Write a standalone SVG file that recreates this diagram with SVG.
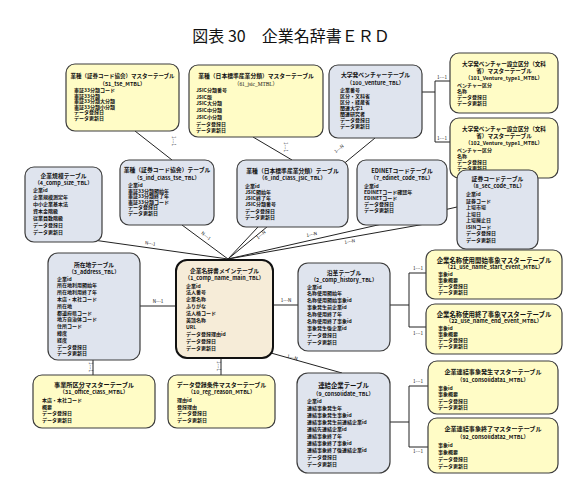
<svg xmlns="http://www.w3.org/2000/svg" width="586" height="485" viewBox="0 0 586 485">
<style>
text{font-family:"Noto Sans CJK JP","Noto Sans",sans-serif;fill:#111}
.y{fill:#fffcc6;stroke:#3c3c3c;stroke-width:1.2}
.b{fill:#dfe4ee;stroke:#3c3c3c;stroke-width:1.2}
.m{fill:#f6ecd8;stroke:#111;stroke-width:2}
.t{font-size:5.8px;font-weight:bold;text-anchor:middle}
.s{font-size:5.4px;font-weight:bold;text-anchor:middle}
.f{font-size:5px;font-weight:bold}
.c line,.c polyline{stroke:#222;stroke-width:1;fill:none}
.l{font-size:4.6px;text-anchor:middle}
.h{font-size:16px;text-anchor:middle}
</style>
<rect width="586" height="485" fill="#fff"/>
<text class="h" x="291" y="42">図表 30　企業名辞書ＥＲＤ</text>

<g id="connectors" class="c">
<line x1="135" y1="131" x2="172" y2="160"/>
<line x1="253" y1="137" x2="292" y2="160"/>
<line x1="375" y1="138" x2="228" y2="259"/>
<line x1="182" y1="225" x2="228" y2="259"/>
<line x1="258" y1="227" x2="228" y2="259"/>
<line x1="72" y1="237" x2="228" y2="259"/>
<line x1="425" y1="224" x2="228" y2="259"/>
<line x1="457" y1="207" x2="228" y2="259"/>
<line x1="140" y1="306" x2="176" y2="306"/>
<line x1="273" y1="305" x2="298" y2="305"/>
<polyline points="390,305 409,305"/>
<polyline points="426,273 409,273 409,327 426,327"/>
<polyline points="422,92 435,92"/>
<polyline points="450,81 435,81 435,142 450,142"/>
<line x1="93" y1="360" x2="93" y2="375"/>
<line x1="221" y1="358" x2="221" y2="375"/>
<line x1="271" y1="353" x2="342" y2="373"/>
<polyline points="390,422 409,422"/>
<polyline points="428,386 409,386 409,447 428,447"/>
<text class="l" transform="translate(172,141) rotate(90)">1---1</text>
<text class="l" transform="translate(284,147) rotate(90)">1---1</text>
<text class="l" transform="translate(340,150) rotate(-38)">1---N</text>
<text class="l" transform="translate(205,237) rotate(37)">N---1</text>
<text class="l" transform="translate(262,236) rotate(-40)">1---N</text>
<text class="l" transform="translate(150,245) rotate(8)">N---1</text>
<text class="l" transform="translate(312,236) rotate(-11)">1---N</text>
<text class="l" transform="translate(350,243) rotate(-10)">1---N</text>
<text class="l" x="158" y="303">N---1</text>
<text class="l" x="286" y="302">1---N</text>
<text class="l" x="418" y="270">1---1</text>
<text class="l" x="418" y="335">1---1</text>
<text class="l" x="442" y="79">1---1</text>
<text class="l" x="442" y="140">1---1</text>
<text class="l" transform="translate(89,367) rotate(90)">1---1</text>
<text class="l" transform="translate(217,366) rotate(90)">1---1</text>
<text class="l" transform="translate(292,359) rotate(15)">1---N</text>
<text class="l" x="418" y="383">1---1</text>
<text class="l" x="418" y="453">1---1</text>
</g>

<g id="n51">
<rect class="y" x="66" y="64" width="113" height="67" rx="9"/>
<text class="t" x="122.5" y="78" style="font-size:5.5px">業種（証券コード協会）マスターテーブル</text>
<text class="s" x="122.5" y="85.5">（51_tse_MTBL）</text>
<text class="f" x="74" y="92">東証33分類コード</text>
<text class="f" x="74" y="97.6">東証33分類</text>
<text class="f" x="74" y="103.2">東証33分類大分類</text>
<text class="f" x="74" y="108.8">東証33分類小分類</text>
<text class="f" x="74" y="114.4">データ登録日</text>
<text class="f" x="74" y="120">データ更新日</text>
</g>

<g id="n61">
<rect class="y" x="189" y="65" width="134" height="72" rx="9"/>
<text class="t" x="256" y="78">業種（日本標準産業分類）マスターテーブル</text>
<text class="s" x="256" y="85.5" style="font-weight:normal;font-family:'Liberation Serif','Noto Sans CJK JP',serif">（61_jsic_MTBL）</text>
<text class="f" x="196" y="92">JSIC分類番号</text>
<text class="f" x="196" y="98.7">JSIC版</text>
<text class="f" x="196" y="105.4">JSIC大分類</text>
<text class="f" x="196" y="112.1">JSIC中分類</text>
<text class="f" x="196" y="118.8">JSIC小分類</text>
<text class="f" x="196" y="125.5">データ登録日</text>
<text class="f" x="196" y="132.2">データ更新日</text>
</g>

<g id="n100">
<rect class="b" x="329" y="65" width="93" height="73" rx="9"/>
<text class="t" x="375.5" y="77">大学発ベンチャーテーブル</text>
<text class="s" x="375.5" y="85">（100_Venture_TBL）</text>
<text class="f" x="340" y="92">企業番号</text>
<text class="f" x="340" y="98">区分・文科省</text>
<text class="f" x="340" y="104">区分・経産省</text>
<text class="f" x="340" y="110">関連大学1</text>
<text class="f" x="340" y="116">関連研究者</text>
<text class="f" x="340" y="122">データ登録日</text>
<text class="f" x="340" y="128">データ更新日</text>
</g>

<g id="n101">
<rect class="y" x="450" y="53" width="108" height="60" rx="9"/>
<text class="t" x="504" y="65.5" style="font-size:5.6px">大学発ベンチャー設立区分（文科</text>
<text class="t" x="504" y="72.5" style="font-size:5.6px">省）マスターテーブル</text>
<text class="s" x="504" y="79.5" style="font-size:5.2px">（101_Venture_type1_MTBL）</text>
<text class="f" x="457" y="86.5">ベンチャー区分</text>
<text class="f" x="457" y="92.5">名称</text>
<text class="f" x="457" y="98.5">データ登録日</text>
<text class="f" x="457" y="104.5">データ更新日</text>
</g>

<g id="n102">
<rect class="y" x="450" y="118" width="108" height="60" rx="9"/>
<text class="t" x="504" y="130.5" style="font-size:5.6px">大学発ベンチャー設立区分（文科</text>
<text class="t" x="504" y="137.5" style="font-size:5.6px">省）マスターテーブル</text>
<text class="s" x="504" y="144.5" style="font-size:5.2px">（102_Venture_type1_MTBL）</text>
<text class="f" x="457" y="151.5">ベンチャー区分</text>
<text class="f" x="457" y="157.5">名称</text>
<text class="f" x="457" y="163.5">データ登録日</text>
<text class="f" x="457" y="169.5">データ更新日</text>
</g>

<g id="n4">
<rect class="b" x="25" y="167" width="77" height="75" rx="9"/>
<text class="t" x="63.5" y="178">企業規模テーブル</text>
<text class="s" x="63.5" y="185">（4_comp_size_TBL）</text>
<text class="f" x="33" y="192">企業id</text>
<text class="f" x="33" y="199">企業規模測定年</text>
<text class="f" x="33" y="206">中小企業基本法</text>
<text class="f" x="33" y="213">資本金階級</text>
<text class="f" x="33" y="220">従業員数階級</text>
<text class="f" x="33" y="227">データ登録日</text>
<text class="f" x="33" y="234">データ更新日</text>
</g>

<g id="n5">
<rect class="b" x="120" y="160" width="94" height="65" rx="9"/>
<text class="t" x="167" y="172">業種（証券コード協会）テーブル</text>
<text class="s" x="167" y="179.5">（5_ind_class_tse_TBL）</text>
<text class="f" x="128" y="187">企業id</text>
<text class="f" x="128" y="192.6">東証33分類開始年</text>
<text class="f" x="128" y="198.2">東証33分類終了年</text>
<text class="f" x="128" y="203.8">東証33分類コード</text>
<text class="f" x="128" y="209.4">データ登録日</text>
<text class="f" x="128" y="215">データ更新日</text>
</g>

<g id="n6">
<rect class="b" x="237" y="160" width="111" height="67" rx="9"/>
<text class="t" x="292.5" y="172.5">業種（日本標準産業分類）テーブル</text>
<text class="s" x="292.5" y="179.5">（6_ind_class_jsic_TBL）</text>
<text class="f" x="245" y="187.5">企業id</text>
<text class="f" x="245" y="193.8">JSIC開始年</text>
<text class="f" x="245" y="200.1">JSIC終了年</text>
<text class="f" x="245" y="206.4">JSIC分類番号</text>
<text class="f" x="245" y="212.7">データ登録日</text>
<text class="f" x="245" y="219">データ更新日</text>
</g>

<g id="n7">
<rect class="b" x="357" y="160" width="90" height="65" rx="9"/>
<text class="t" x="402" y="172.5">EDINETコードテーブル</text>
<text class="s" x="402" y="179.5">（7_edinet_code_TBL）</text>
<text class="f" x="364" y="187.5">企業id</text>
<text class="f" x="364" y="193.6">EDINETコード確認年</text>
<text class="f" x="364" y="199.7">EDINETコード</text>
<text class="f" x="364" y="205.8">データ登録日</text>
<text class="f" x="364" y="211.9">データ更新日</text>
</g>

<g id="n8">
<rect class="b" x="457" y="170" width="81" height="79" rx="9"/>
<text class="t" x="497.5" y="181">証券コードテーブル</text>
<text class="s" x="497.5" y="188">（8_sec_code_TBL）</text>
<text class="f" x="466" y="196">企業id</text>
<text class="f" x="466" y="202.5">証券コード</text>
<text class="f" x="466" y="209">上場市場</text>
<text class="f" x="466" y="215.5">上場日</text>
<text class="f" x="466" y="222">上場廃止日</text>
<text class="f" x="466" y="228.5">ISINコード</text>
<text class="f" x="466" y="235">データ登録日</text>
<text class="f" x="466" y="241.5">データ更新日</text>
</g>

<g id="n3">
<rect class="b" x="48" y="253" width="92" height="107" rx="10"/>
<text class="t" x="94" y="267">所在地テーブル</text>
<text class="s" x="94" y="274">（3_address_TBL）</text>
<text class="f" x="57" y="280.5">企業id</text>
<text class="f" x="57" y="287.3">所在地利用開始年</text>
<text class="f" x="57" y="294.1">所在地利用終了年</text>
<text class="f" x="57" y="300.9">本店・本社コード</text>
<text class="f" x="57" y="307.7">所在地</text>
<text class="f" x="57" y="314.5">都道府県コード</text>
<text class="f" x="57" y="321.3">地方自治体コード</text>
<text class="f" x="57" y="328.1">住所コード</text>
<text class="f" x="57" y="334.9">緯度</text>
<text class="f" x="57" y="341.7">経度</text>
<text class="f" x="57" y="348.5">データ登録日</text>
<text class="f" x="57" y="355.3">データ更新日</text>
</g>

<g id="n1">
<rect class="m" x="176" y="260" width="97" height="98" rx="11"/>
<text class="t" x="224.5" y="272.5">企業名辞書メインテーブル</text>
<text class="s" x="224.5" y="280">（1_comp_name_main_TBL）</text>
<text class="f" x="186" y="287.5">企業id</text>
<text class="f" x="186" y="294.4">法人番号</text>
<text class="f" x="186" y="301.3">企業名称</text>
<text class="f" x="186" y="308.2">ふりがな</text>
<text class="f" x="186" y="315.1">法人格コード</text>
<text class="f" x="186" y="322">英語名称</text>
<text class="f" x="186" y="328.9">URL</text>
<text class="f" x="186" y="335.8">データ登録理由id</text>
<text class="f" x="186" y="342.7">データ登録日</text>
<text class="f" x="186" y="349.6">データ更新日</text>
</g>

<g id="n2">
<rect class="b" x="298" y="263" width="92" height="88" rx="10"/>
<text class="t" x="344" y="275">沿革テーブル</text>
<text class="s" x="344" y="282">（2_comp_history_TBL）</text>
<text class="f" x="307" y="288.5">企業id</text>
<text class="f" x="307" y="295.4">名称使用開始年</text>
<text class="f" x="307" y="302.3">名称使用開始事象id</text>
<text class="f" x="307" y="309.2">事象発生前企業id</text>
<text class="f" x="307" y="316.1">名称使用終了年</text>
<text class="f" x="307" y="323">名称使用終了事象id</text>
<text class="f" x="307" y="329.9">事象発生後企業id</text>
<text class="f" x="307" y="336.8">データ登録日</text>
<text class="f" x="307" y="343.7">データ更新日</text>
</g>

<g id="n21">
<rect class="y" x="426" y="250" width="136" height="49" rx="9"/>
<text class="t" x="494" y="262.5" style="font-size:6.4px">企業名称使用開始事象マスターテーブル</text>
<text class="s" x="494" y="269">（21_use_name_start_event_MTBL）</text>
<text class="f" x="438" y="276">事象id</text>
<text class="f" x="438" y="282">事象概要</text>
<text class="f" x="438" y="288">データ登録日</text>
<text class="f" x="438" y="294">データ更新日</text>
</g>

<g id="n22">
<rect class="y" x="426" y="304" width="136" height="50" rx="9"/>
<text class="t" x="494" y="316.5" style="font-size:6.4px">企業名称使用終了事象マスターテーブル</text>
<text class="s" x="494" y="323">（22_use_name_end_event_MTBL）</text>
<text class="f" x="438" y="330">事象id</text>
<text class="f" x="438" y="336">事象概要</text>
<text class="f" x="438" y="342">データ登録日</text>
<text class="f" x="438" y="348">データ更新日</text>
</g>

<g id="n31">
<rect class="y" x="33" y="375" width="122" height="53" rx="9"/>
<text class="t" x="94" y="386.5" style="font-size:6.2px">事業所区分マスターテーブル</text>
<text class="s" x="94" y="394">（31_office_class_MTBL）</text>
<text class="f" x="42" y="402">本店・本社コード</text>
<text class="f" x="42" y="408.6">概要</text>
<text class="f" x="42" y="415.2">データ登録日</text>
<text class="f" x="42" y="421.8">データ更新日</text>
</g>

<g id="n10">
<rect class="y" x="168" y="375" width="107" height="53" rx="9"/>
<text class="t" x="221.5" y="386.5" style="font-size:6px">データ登録条件マスターテーブル</text>
<text class="s" x="221.5" y="394">（10_reg_reason_MTBL）</text>
<text class="f" x="177" y="402">理由id</text>
<text class="f" x="177" y="408.6">登録理由</text>
<text class="f" x="177" y="415.2">データ登録日</text>
<text class="f" x="177" y="421.8">データ更新日</text>
</g>

<g id="n9">
<rect class="b" x="297" y="373" width="93" height="100" rx="11"/>
<text class="t" x="343.5" y="388" style="font-size:6.4px">連結企業テーブル</text>
<text class="s" x="343.5" y="395.5">（9_consolidate_TBL）</text>
<text class="f" x="307" y="402.5">企業id</text>
<text class="f" x="307" y="409.5">連結事象発生年</text>
<text class="f" x="307" y="416.5">連結事象発生事象id</text>
<text class="f" x="307" y="423.5">連結事象発生前連結企業id</text>
<text class="f" x="307" y="430.5">連結先連結企業id</text>
<text class="f" x="307" y="437.5">連結事象終了年</text>
<text class="f" x="307" y="444.5">連結事象終了事象id</text>
<text class="f" x="307" y="451.5">連結事象終了後連結企業id</text>
<text class="f" x="307" y="458.5">データ登録日</text>
<text class="f" x="307" y="465.5">データ更新日</text>
</g>

<g id="n91">
<rect class="y" x="428" y="361" width="130" height="53" rx="9"/>
<text class="t" x="493" y="374" style="font-size:6.1px">企業連結事象発生マスターテーブル</text>
<text class="s" x="493" y="382">（91_consolidata1_MTBL）</text>
<text class="f" x="438" y="389.5">事象id</text>
<text class="f" x="438" y="396">事象概要</text>
<text class="f" x="438" y="402.5">データ登録日</text>
<text class="f" x="438" y="409">データ更新日</text>
</g>

<g id="n92">
<rect class="y" x="428" y="418" width="130" height="55" rx="9"/>
<text class="t" x="493" y="431" style="font-size:6.1px">企業連結事象終了マスターテーブル</text>
<text class="s" x="493" y="439">（92_consolidata2_MTBL）</text>
<text class="f" x="438" y="446.5">事象id</text>
<text class="f" x="438" y="453.5">事象概要</text>
<text class="f" x="438" y="460.5">データ登録日</text>
<text class="f" x="438" y="467.5">データ更新日</text>
</g>
</svg>
